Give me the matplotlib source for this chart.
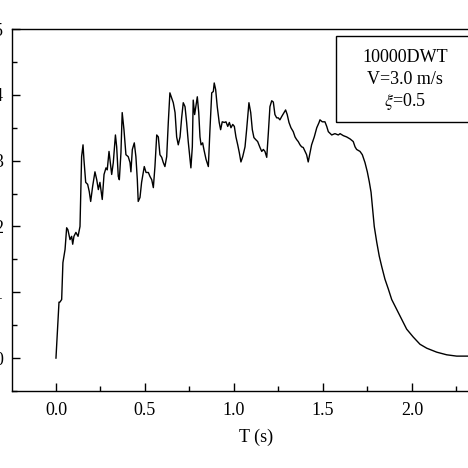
import matplotlib
matplotlib.use("Agg")
import matplotlib.pyplot as plt
from matplotlib.patches import Rectangle
from matplotlib.ticker import MultipleLocator

plt.rcParams['font.family'] = ['Liberation Serif', 'DejaVu Serif']
plt.rcParams['mathtext.fontset'] = 'stix'

# Time (s)
T = [0.000, 0.017, 0.022, 0.032, 0.039, 0.051, 0.060, 0.067, 0.079, 0.088,
     0.094, 0.101, 0.112, 0.124, 0.135, 0.144, 0.152, 0.157, 0.167, 0.178,
     0.187, 0.195, 0.206, 0.219, 0.229, 0.238, 0.247, 0.260, 0.270, 0.281,
     0.288, 0.298, 0.303, 0.313, 0.322, 0.334, 0.341, 0.350, 0.356, 0.365,
     0.372, 0.382, 0.393, 0.406, 0.416, 0.421, 0.429, 0.440, 0.449, 0.457,
     0.462, 0.472, 0.481, 0.496, 0.506, 0.519, 0.528, 0.538, 0.547, 0.556,
     0.566, 0.575, 0.584, 0.594, 0.603, 0.612, 0.622, 0.631, 0.640, 0.650,
     0.659, 0.669, 0.678, 0.687, 0.697, 0.706, 0.715, 0.725, 0.734, 0.743,
     0.753, 0.758, 0.766, 0.771, 0.779, 0.787, 0.794, 0.802, 0.809, 0.815,
     0.824, 0.831, 0.843, 0.856, 0.865, 0.875, 0.884, 0.889, 0.897, 0.906,
     0.917, 0.925, 0.934, 0.946, 0.955, 0.965, 0.974, 0.983, 0.993, 1.002,
     1.011, 1.021, 1.030, 1.039, 1.049, 1.062, 1.071, 1.084, 1.094, 1.103,
     1.112, 1.122, 1.133, 1.146, 1.156, 1.165, 1.174, 1.184, 1.193, 1.202,
     1.212, 1.221, 1.230, 1.240, 1.249, 1.258, 1.268, 1.283, 1.290, 1.299,
     1.309, 1.320, 1.333, 1.343, 1.352, 1.361, 1.371, 1.380, 1.389, 1.399,
     1.408, 1.417, 1.427, 1.436, 1.451, 1.465, 1.478, 1.483, 1.496, 1.511,
     1.521, 1.530, 1.549, 1.567, 1.586, 1.596, 1.614, 1.633, 1.652, 1.670,
     1.680, 1.689, 1.708, 1.721, 1.736, 1.749, 1.760, 1.770, 1.779, 1.788,
     1.802, 1.816, 1.830, 1.848, 1.867, 1.886, 1.914, 1.942, 1.970, 2.007,
     2.045, 2.083, 2.139, 2.195, 2.251, 2.307, 2.350]

# Response (axis units)
F = [0.00, 0.85, 0.85, 0.89, 1.45, 1.65, 1.98, 1.95, 1.80, 1.85,
     1.73, 1.85, 1.91, 1.85, 2.00, 3.06, 3.24, 3.02, 2.67, 2.64,
     2.53, 2.38, 2.61, 2.83, 2.71, 2.56, 2.67, 2.41, 2.79, 2.89,
     2.86, 3.14, 3.02, 2.79, 2.97, 3.39, 3.21, 2.76, 2.71, 3.12,
     3.73, 3.47, 3.09, 3.06, 2.97, 2.83, 3.17, 3.27, 3.06, 2.71,
     2.38, 2.44, 2.67, 2.91, 2.82, 2.82, 2.76, 2.71, 2.59, 2.91,
     3.39, 3.36, 3.09, 3.05, 2.97, 2.91, 3.06, 3.58, 4.03, 3.95,
     3.88, 3.73, 3.36, 3.24, 3.36, 3.65, 3.88, 3.82, 3.58, 3.29,
     3.02, 2.89, 3.21, 3.92, 3.70, 3.85, 3.97, 3.73, 3.36, 3.24,
     3.27, 3.17, 3.02, 2.91, 3.47, 4.03, 4.05, 4.18, 4.08, 3.82,
     3.58, 3.47, 3.59, 3.58, 3.59, 3.52, 3.58, 3.50, 3.55, 3.52,
     3.36, 3.24, 3.12, 2.98, 3.06, 3.21, 3.47, 3.88, 3.73, 3.47,
     3.35, 3.32, 3.29, 3.20, 3.14, 3.17, 3.14, 3.05, 3.42, 3.82,
     3.91, 3.89, 3.70, 3.65, 3.65, 3.62, 3.67, 3.74, 3.77, 3.70,
     3.58, 3.50, 3.44, 3.36, 3.32, 3.29, 3.24, 3.21, 3.20, 3.14,
     3.09, 2.98, 3.12, 3.24, 3.36, 3.50, 3.58, 3.62, 3.59, 3.59,
     3.52, 3.44, 3.39, 3.41, 3.39, 3.41, 3.38, 3.36, 3.33, 3.29,
     3.21, 3.17, 3.14, 3.09, 2.97, 2.83, 2.68, 2.52, 2.26, 2.00,
     1.76, 1.55, 1.39, 1.20, 1.05, 0.89, 0.74, 0.59, 0.44, 0.32,
     0.21, 0.15, 0.09, 0.05, 0.03, 0.03, 0.03]

x_ticks = [0.0, 0.5, 1.0, 1.5, 2.0]
x_tick_labels = ["0.0", "0.5", "1.0", "1.5", "2.0"]
y_ticks = [0, 1, 2, 3, 4, 5]
y_tick_labels = ["0", "1", "2", "3", "4", "5"]
x_label = "T (s)"
note_lines = ["10000DWT", "V=3.0 m/s", r"$\xi$=0.5"]

W = H = 468
fig = plt.figure(figsize=(W / 100, H / 100), dpi=100)
ax = fig.add_axes([12 / W, 77 / H, 489 / W, 362 / H])

ax.plot(T, F, color='black', lw=1.0)
ax.set_xlim(-0.247, 2.5)
ax.set_ylim(-0.5, 5.0)

ax.set_xticks(x_ticks)
ax.set_xticklabels(x_tick_labels)
ax.set_yticks(y_ticks)
ax.set_yticklabels(y_tick_labels)
ax.xaxis.set_minor_locator(MultipleLocator(0.25))
ax.yaxis.set_minor_locator(MultipleLocator(0.5))
ax.tick_params(which='both', direction='in', top=False, right=False,
               labelsize=13, width=1.0)
ax.tick_params(which='major', length=6)
ax.tick_params(which='minor', length=3.5)
ax.tick_params(axis='x', pad=8)
ax.tick_params(axis='y', pad=6.5)
ax.set_xlabel(x_label, fontsize=13, labelpad=7)
for s in ax.spines.values():
    s.set_linewidth(1.0)

# annotation box
fig.add_artist(Rectangle((336 / W, 1 - 122 / H), 140 / W, 86 / H,
                         transform=fig.transFigure, fill=False,
                         edgecolor='black', lw=1.0, clip_on=False))
for line, ypx in zip(note_lines, [57, 79, 101]):
    fig.text(405 / W, 1 - ypx / H, line, ha='center', va='center', fontsize=13)

fig.savefig("out.png", dpi=100)
